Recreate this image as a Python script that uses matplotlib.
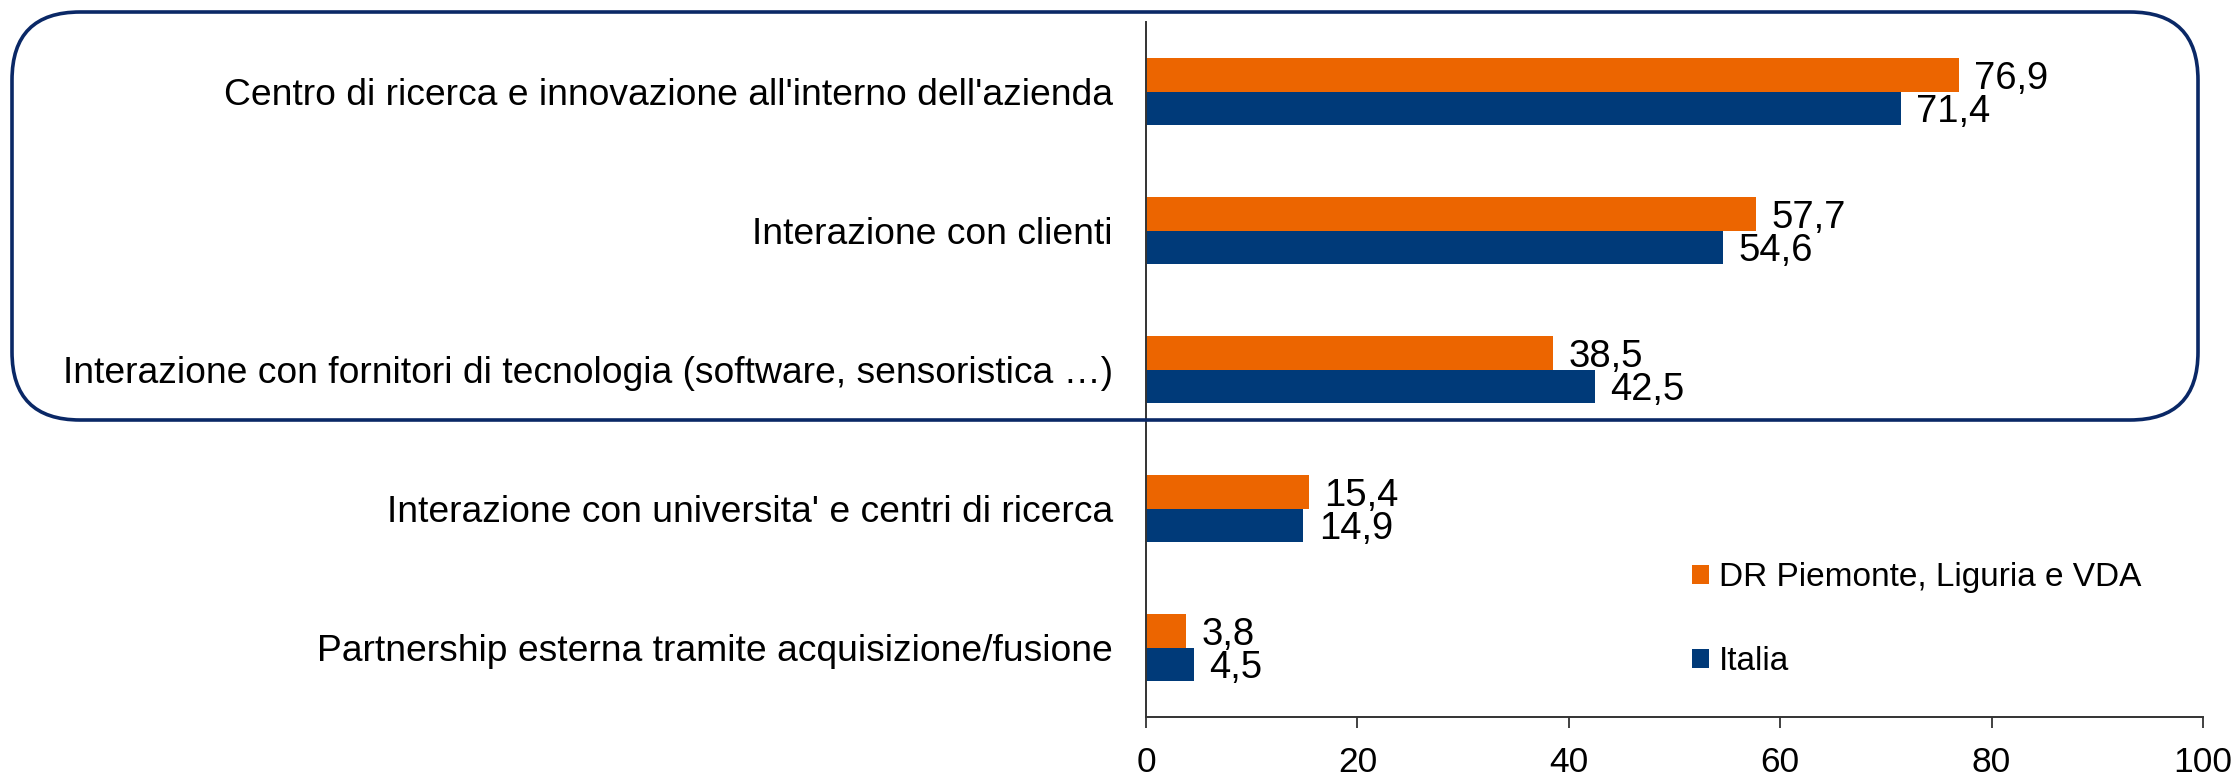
import matplotlib
matplotlib.use('Agg')
import matplotlib.pyplot as plt
import numpy as np
from matplotlib.patches import FancyBboxPatch
from matplotlib.transforms import IdentityTransform

plt.rcParams['font.family'] = ['Liberation Sans', 'DejaVu Sans']

# data, top to bottom
categories = [
    "Centro di ricerca e innovazione all'interno dell'azienda",
    "Interazione con clienti",
    "Interazione con fornitori di tecnologia (software, sensoristica \u2026)",
    "Interazione con universita' e centri di ricerca",
    "Partnership esterna tramite acquisizione/fusione",
]
dr_values = [76.9, 57.7, 38.5, 15.4, 3.8]
italia_values = [71.4, 54.6, 42.5, 14.9, 4.5]
series_names = ["DR Piemonte, Liguria e VDA", "Italia"]
x_ticks = [0, 20, 40, 60, 80, 100]

ORANGE = '#EC6500'
BLUE = '#003A79'
NAVY = '#0A2866'

W, H = 2238, 777
fig = plt.figure(figsize=(W / 100, H / 100), dpi=100)
ax = fig.add_axes([1146 / W, 1 - 717 / H, (2203 - 1146) / W, (717 - 22) / H])

y = np.arange(len(categories))
h = 0.24
b1 = ax.barh(y - h / 2, dr_values, height=h, color=ORANGE, label=series_names[0])
b2 = ax.barh(y + h / 2, italia_values, height=h, color=BLUE, label=series_names[1])

def fmt(v):
    return f"{v:.1f}".replace('.', ',')

for bars, vals in ((b1, dr_values), (b2, italia_values)):
    for rect, v in zip(bars, vals):
        ax.annotate(fmt(v), (rect.get_width(), rect.get_y() + rect.get_height() / 2),
                    xytext=(11, 0), textcoords='offset points',
                    ha='left', va='center_baseline', fontsize=27.5)

ax.set_xlim(0, 100)
ax.set_ylim(len(categories) - 0.5, -0.5)
ax.set_xticks(x_ticks)
ax.set_yticks(y)
ax.set_yticklabels(categories, fontsize=26.8)
ax.tick_params(axis='y', length=0, pad=24)
ax.tick_params(axis='x', length=8, width=1.3, direction='out', labelsize=25.5, pad=13, color='#333333')
for s in ('top', 'right'):
    ax.spines[s].set_visible(False)
for s in ('left', 'bottom'):
    ax.spines[s].set_linewidth(1.4)
    ax.spines[s].set_color('#333333')

ax.legend(loc='upper left', bbox_to_anchor=(1692 / W, 1 - 562 / H), bbox_transform=fig.transFigure,
          frameon=False, fontsize=24, handlelength=0.5, handleheight=0.5,
          handletextpad=0.3, labelspacing=1.6, borderaxespad=0, borderpad=0)

# rounded highlight box around the first three categories
box = FancyBboxPatch((12, H - 420), 2198 - 12, 420 - 12,
                     boxstyle="round,pad=0,rounding_size=68",
                     transform=IdentityTransform(), fill=False,
                     edgecolor=NAVY, linewidth=2.6, zorder=10)
fig.add_artist(box)

fig.savefig('out.png', dpi=100)
